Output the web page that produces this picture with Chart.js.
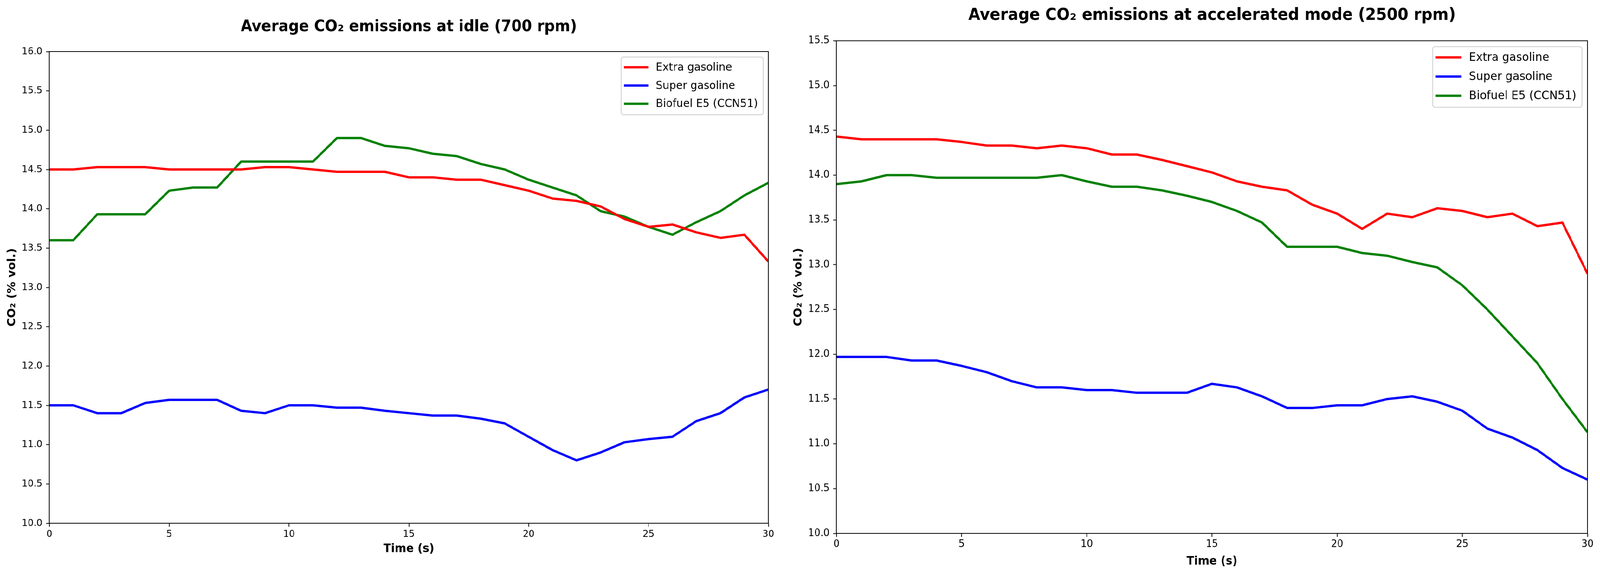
<!DOCTYPE html>
<html>
<head>
<meta charset="utf-8">
<script src="https://cdn.jsdelivr.net/npm/chart.js@4.4.1/dist/chart.umd.min.js"></script>
<style>
    html, body { margin: 0; padding: 0; background: #fff; overflow: hidden; }
    #stage { position: absolute; left: 0; top: 0; width: 4344px; height: 1470px; transform-origin: 0 0; background: #fff; }
    canvas { position: absolute; top: 0; }
    #idleChart { left: 0; }
    #accelChart { left: 2130px; }
</style>
</head>
<body>
<div id="stage">
    <canvas id="idleChart" width="2130" height="1470"></canvas>
    <canvas id="accelChart" width="2214" height="1470"></canvas>
</div>
<script>
'use strict';

// Data (one value per second)
const timeSec = [0, 1, 2, 3, 4, 5, 6, 7, 8, 9, 10, 11, 12, 13, 14, 15, 16, 17, 18, 19, 20, 21, 22, 23, 24, 25, 26, 27, 28, 29, 30];
const seriesNames = ['Extra gasoline', 'Super gasoline', 'Biofuel E5 (CCN51)'];
const seriesColors = ['#ff0000', '#0000ff', '#008000'];

const idleExtra = [14.5, 14.5, 14.53, 14.53, 14.53, 14.5, 14.5, 14.5, 14.5, 14.53, 14.53, 14.5, 14.47, 14.47, 14.47, 14.4, 14.4, 14.37, 14.37, 14.3, 14.23, 14.13, 14.1, 14.03, 13.87, 13.77, 13.8, 13.7, 13.63, 13.67, 13.33];
const idleSuper = [11.5, 11.5, 11.4, 11.4, 11.53, 11.57, 11.57, 11.57, 11.43, 11.4, 11.5, 11.5, 11.47, 11.47, 11.43, 11.4, 11.37, 11.37, 11.33, 11.27, 11.1, 10.93, 10.8, 10.9, 11.03, 11.07, 11.1, 11.3, 11.4, 11.6, 11.7];
const idleBio = [13.6, 13.6, 13.93, 13.93, 13.93, 14.23, 14.27, 14.27, 14.6, 14.6, 14.6, 14.6, 14.9, 14.9, 14.8, 14.77, 14.7, 14.67, 14.57, 14.5, 14.37, 14.27, 14.17, 13.97, 13.9, 13.77, 13.67, 13.83, 13.97, 14.17, 14.33];

const accelExtra = [14.43, 14.4, 14.4, 14.4, 14.4, 14.37, 14.33, 14.33, 14.3, 14.33, 14.3, 14.23, 14.23, 14.17, 14.1, 14.03, 13.93, 13.87, 13.83, 13.67, 13.57, 13.4, 13.57, 13.53, 13.63, 13.6, 13.53, 13.57, 13.43, 13.47, 12.9];
const accelSuper = [11.97, 11.97, 11.97, 11.93, 11.93, 11.87, 11.8, 11.7, 11.63, 11.63, 11.6, 11.6, 11.57, 11.57, 11.57, 11.67, 11.63, 11.53, 11.4, 11.4, 11.43, 11.43, 11.5, 11.53, 11.47, 11.37, 11.17, 11.07, 10.93, 10.73, 10.6];
const accelBio = [13.9, 13.93, 14.0, 14.0, 13.97, 13.97, 13.97, 13.97, 13.97, 14.0, 13.93, 13.87, 13.87, 13.83, 13.77, 13.7, 13.6, 13.47, 13.2, 13.2, 13.2, 13.13, 13.1, 13.03, 12.97, 12.77, 12.5, 12.2, 11.9, 11.5, 11.13];

const xTicks = { min: 0, max: 30, step: 5 };
const idleYTicks = { min: 10, max: 16, step: 0.5 };
const accelYTicks = { min: 10, max: 15.5, step: 0.5 };

// fit the 4344x1470 drawing into whatever viewport we really get
const stage = document.getElementById('stage');
const sx = window.innerWidth ? window.innerWidth / 4344 : 1;
const sy = window.innerHeight ? window.innerHeight / 1470 : 1;
stage.style.transform = `scale(${sx}, ${sy})`;

Chart.defaults.font.family = '"DejaVu Sans", sans-serif';
Chart.defaults.color = '#000';

/******************************** */
// plugins

// black box round the plot, like matplotlib spines
const frameBox = {
    id: 'frameBox',
    afterDatasetsDraw(chart) {
        const { ctx, chartArea: a } = chart;
        ctx.save();
        ctx.strokeStyle = '#000';
        ctx.lineWidth = 2;
        ctx.strokeRect(a.left, a.top, a.right - a.left, a.bottom - a.top);
        ctx.restore();
    },
};

// legend box in the upper right corner of the plot
const boxLegend = {
    id: 'boxLegend',
    afterDatasetsDraw(chart, args, opts) {
        const { ctx, chartArea: a } = chart;
        const f = opts.fontSize;
        const items = chart.data.datasets;
        ctx.save();
        ctx.font = `${f}px "DejaVu Sans"`;
        const textW = Math.max(...items.map(d => ctx.measureText(d.label).width));
        const rowH = f * 1.61;
        const lineLen = f * 2.28;
        const w = 8 + lineLen + f * 0.69 + textW + f * 0.5;
        const h = rowH * items.length + 8;
        const x = a.right - opts.margin - w;
        const y = a.top + opts.margin;

        ctx.beginPath();
        ctx.roundRect(x, y, w, h, 6);
        ctx.fillStyle = 'rgba(255,255,255,0.8)';
        ctx.fill();
        ctx.strokeStyle = '#cccccc';
        ctx.lineWidth = 2;
        ctx.stroke();

        ctx.textBaseline = 'middle';
        ctx.textAlign = 'left';
        items.forEach((d, i) => {
            const cy = y + 3 + rowH / 2 + i * rowH;
            ctx.beginPath();
            ctx.moveTo(x + 8, cy);
            ctx.lineTo(x + 8 + lineLen, cy);
            ctx.strokeStyle = d.borderColor;
            ctx.lineWidth = 6;
            ctx.stroke();
            ctx.fillStyle = '#000';
            ctx.fillText(d.label, x + 8 + lineLen + f * 0.69, cy + 1);
        });
        ctx.restore();
    },
};

/******************************** */
// chart builder

const makeChart = (id, p) => {
    const datasets = p.series.map((vals, i) => ({
        label: seriesNames[i],
        data: timeSec.map((t, k) => ({ x: t, y: vals[k] })),
        borderColor: seriesColors[i],
        backgroundColor: seriesColors[i],
        borderWidth: 6,
        pointRadius: 0,
        tension: 0,
        borderJoinStyle: 'round',
    }));

    return new Chart(document.getElementById(id), {
        type: 'line',
        data: { datasets },
        plugins: [frameBox, boxLegend],
        options: {
            responsive: false,
            animation: false,
            devicePixelRatio: 1,
            layout: { padding: { left: 0, right: p.padRight, top: 0, bottom: 0 } },
            plugins: {
                legend: { display: false },
                tooltip: { enabled: false },
                title: {
                    display: true,
                    text: p.title,
                    fullSize: false,
                    color: '#000',
                    font: { size: p.titleSize, weight: 'bold', lineHeight: 1.2 },
                    padding: { top: p.titleTop, bottom: p.titleBottom },
                },
                boxLegend: { fontSize: p.legendSize, margin: p.legendMargin },
            },
            scales: {
                x: {
                    type: 'linear',
                    min: xTicks.min,
                    max: xTicks.max,
                    border: { display: false },
                    grid: { drawOnChartArea: false, drawTicks: true, tickLength: 9, tickWidth: 2, tickColor: '#000' },
                    ticks: { stepSize: xTicks.step, maxRotation: 0, padding: 4, font: { size: p.tickSize } },
                    title: {
                        display: true,
                        text: 'Time (s)',
                        font: { size: 30, weight: 'bold', lineHeight: 1.2 },
                        padding: { top: 0, bottom: p.xTitleBottom },
                    },
                    afterFit: scale => { scale.height = p.xAxisH; },
                },
                y: {
                    type: 'linear',
                    min: p.yTicks.min,
                    max: p.yTicks.max,
                    border: { display: false },
                    grid: { drawOnChartArea: false, drawTicks: true, tickLength: 9, tickWidth: 2, tickColor: '#000' },
                    ticks: {
                        stepSize: p.yTicks.step,
                        padding: 10,
                        autoSkip: false,
                        font: { size: p.tickSize },
                        callback: v => Number(v).toFixed(1),
                    },
                    title: {
                        display: true,
                        text: 'CO₂ (% vol.)',
                        font: { size: 30, weight: 'bold', lineHeight: 1.2 },
                        padding: { top: p.yTitleLeft, bottom: 0 },
                    },
                    afterFit: scale => { scale.width = p.yAxisW; },
                },
            },
        },
    });
};

makeChart('idleChart', {
    series: [idleExtra, idleSuper, idleBio],
    title: 'Average CO₂ emissions at idle (700 rpm)',
    titleSize: 40,
    titleTop: 46,
    titleBottom: 38,
    yTicks: idleYTicks,
    padRight: 44,
    xAxisH: 130,
    yAxisW: 134,
    xTitleBottom: 46,
    yTitleLeft: 15,
    tickSize: 25,
    legendSize: 29,
    legendMargin: 14,
});

makeChart('accelChart', {
    series: [accelExtra, accelSuper, accelBio],
    title: 'Average CO₂ emissions at accelerated mode (2500 rpm)',
    titleSize: 42,
    titleTop: 15,
    titleBottom: 39,
    yTicks: accelYTicks,
    padRight: 34,
    xAxisH: 104,
    yAxisW: 141,
    xTitleBottom: 14,
    yTitleLeft: 20,
    tickSize: 26,
    legendSize: 30.5,
    legendMargin: 15,
});
</script>
</body>
</html>
